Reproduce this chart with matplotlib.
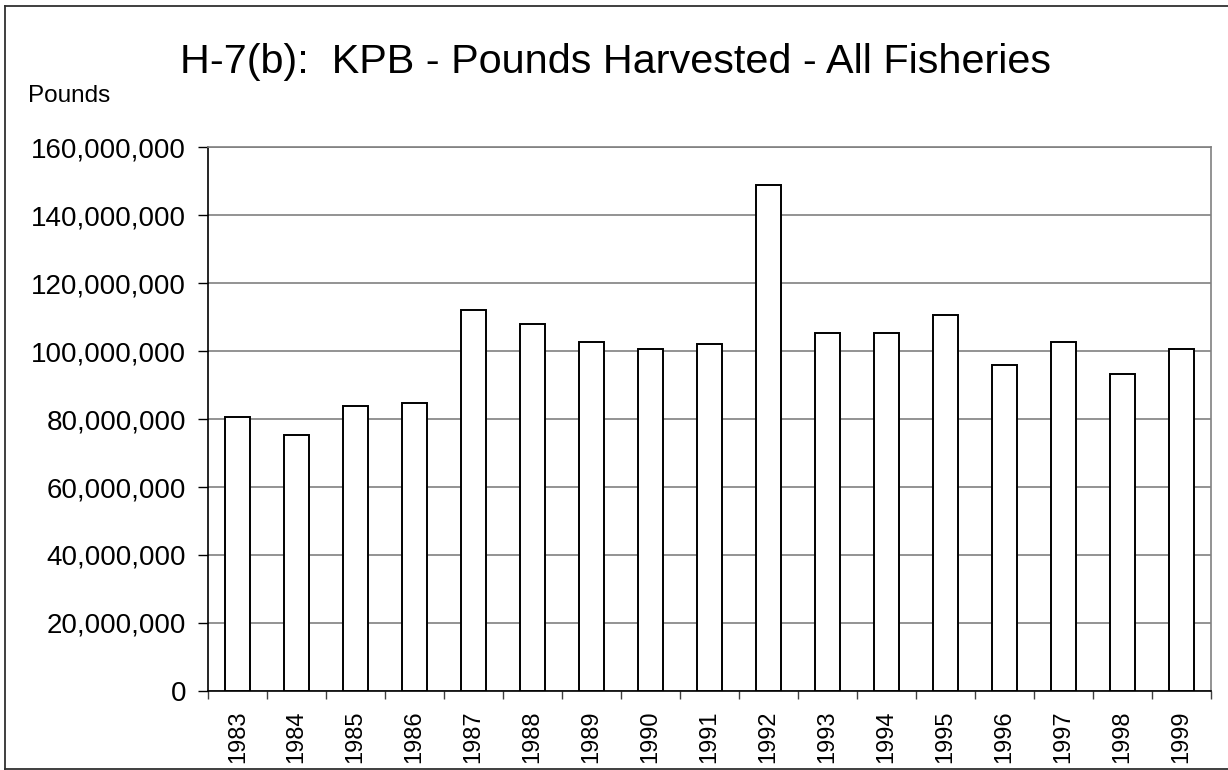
import matplotlib
matplotlib.use("Agg")
import matplotlib.pyplot as plt
from matplotlib.lines import Line2D
from matplotlib.ticker import FuncFormatter, FixedLocator
import numpy as np

years = ["1983", "1984", "1985", "1986", "1987", "1988", "1989", "1990", "1991",
         "1992", "1993", "1994", "1995", "1996", "1997", "1998", "1999"]
pounds = [80.5e6, 75.2e6, 84.0e6, 84.6e6, 112.1e6, 108.1e6, 102.8e6, 100.5e6, 102.2e6,
          148.8e6, 105.2e6, 105.2e6, 110.5e6, 95.8e6, 102.8e6, 93.4e6, 100.5e6]
yticks = [0, 20e6, 40e6, 60e6, 80e6, 100e6, 120e6, 140e6, 160e6]

plt.rcParams['font.family'] = ['Liberation Sans', 'DejaVu Sans']

W, H = 1228, 770
fig = plt.figure(figsize=(W / 100, H / 100), dpi=100)
fig.patch.set_facecolor('white')

# figure border (top, left, bottom; right edge falls outside the image)
def fline(x0, y0, x1, y1):
    fig.add_artist(Line2D([x0 / W, x1 / W], [1 - y0 / H, 1 - y1 / H],
                          transform=fig.transFigure, color='#303030', linewidth=1.3))
fline(5, 5.5, W, 5.5)
fline(5, 5.5, 5, H - 1)
fline(5, H - 1.2, W, H - 1.2)

left, right, top, bottom = 208.3, 1210.7, 147.3, 690.9
ax = fig.add_axes([left / W, 1 - bottom / H, (right - left) / W, (bottom - top) / H])

x = np.arange(len(years))
ax.bar(x, pounds, width=0.42, color='white', edgecolor='black', linewidth=1.4, zorder=3)

ax.set_xlim(-0.5, len(years) - 0.5)
ax.set_ylim(0, 160e6)
ax.set_yticks(yticks)
ax.yaxis.set_major_formatter(FuncFormatter(lambda v, p: f"{int(v):,}"))
ax.yaxis.grid(True, color='#808080', linewidth=1.2, zorder=0)
ax.set_axisbelow(True)

ax.set_xticks(x)
ax.set_xticklabels(years, rotation=90, fontsize=17)
ax.xaxis.set_minor_locator(FixedLocator(np.arange(-0.5, len(years), 1.0)))
ax.tick_params(axis='x', which='major', length=0, pad=14)
ax.tick_params(axis='x', which='minor', length=6, width=1, color='#404040', direction='out')
ax.tick_params(axis='y', which='major', length=7, width=1, labelsize=20, pad=9, direction='out')

for s in ['top', 'right']:
    ax.spines[s].set_color('#808080')
    ax.spines[s].set_linewidth(1.2)
for s in ['left', 'bottom']:
    ax.spines[s].set_color('black')
    ax.spines[s].set_linewidth(1.2)

fig.text(616 / W, 1 - 73 / H, "H-7(b):  KPB - Pounds Harvested - All Fisheries",
         ha='center', va='baseline', fontsize=29.8)
fig.text(28 / W, 1 - 102 / H, "Pounds", ha='left', va='baseline', fontsize=17.5)

fig.savefig("out.png", dpi=100, facecolor='white')
